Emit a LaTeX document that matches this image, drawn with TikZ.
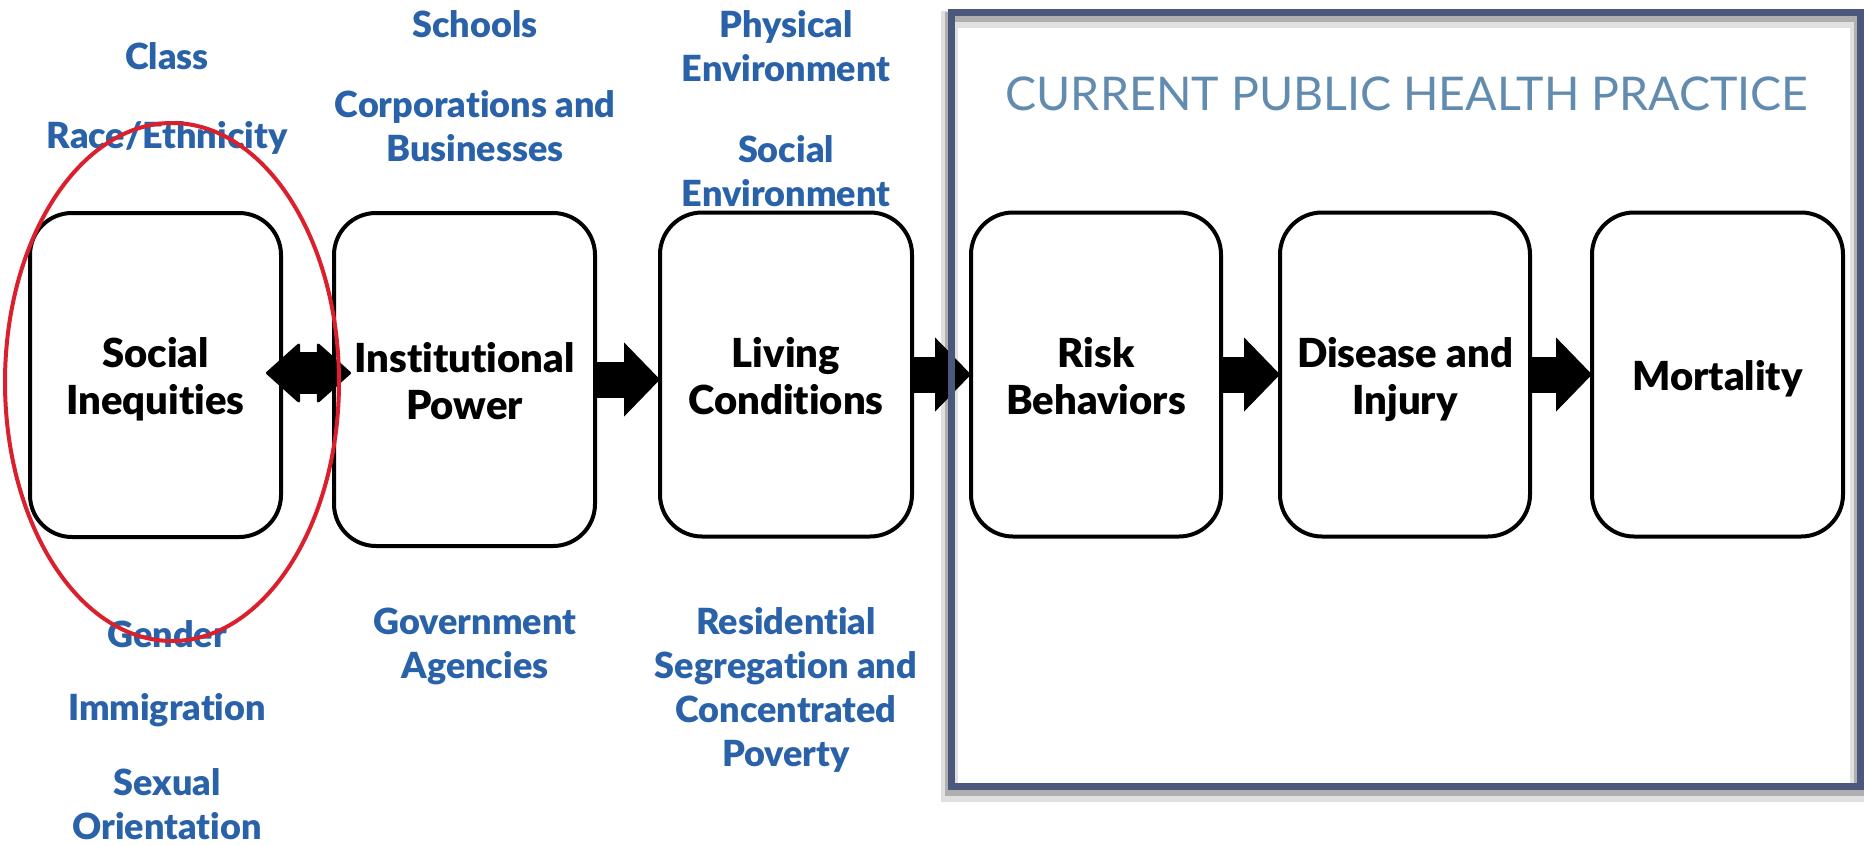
\documentclass[tikz,border=0pt]{standalone}
\usepackage{fontspec}
\setmainfont{Lato}[BoldFont={Lato Black}, Ligatures=NoCommon]
\usetikzlibrary{arrows.meta}
\definecolor{labelblue}{RGB}{41,98,168}
\definecolor{titleblue}{RGB}{98,139,176}
\definecolor{framegray}{RGB}{76,87,124}
\definecolor{ringred}{RGB}{218,32,44}
% invisible struts giving every text block the same height and depth
\newcommand\stagetop{\rule{0pt}{42pt}}
\newcommand\stagebot{\rule[-10pt]{0pt}{10pt}}
\newcommand\factortop{\rule{0pt}{35pt}}
\newcommand\factorbot{\rule[-9pt]{0pt}{9pt}}

\begin{document}
\begin{tikzpicture}[x=1pt,y=-1pt,
  stage/.style={draw=black, line width=4pt, rounded corners=42pt, fill=white,
    minimum width=251pt, minimum height=324pt, inner sep=0pt, outer sep=0pt,
    align=center, font=\fontsize{40}{47}\selectfont\bfseries},
  factor/.style={text=labelblue, align=center, inner sep=0pt,
    font=\fontsize{36}{44}\selectfont\bfseries},
  flow/.style={line width=36pt, -{Triangle[length=36pt,width=74pt,line width=1pt]}},
  twoway/.style={line width=42pt,
    {Triangle[round,length=35pt,width=62pt,line width=3pt]}-{Triangle[round,length=35pt,width=62pt,line width=3pt]}},
  practice/.style={draw=framegray, line width=7pt, minimum width=909pt,
    minimum height=774pt, inner sep=0pt, outer sep=0pt},
]
\useasboundingbox (0,0) rectangle (1864,846);

% drop shadow of the practice frame
\node[practice, draw=black, draw opacity=0.12, line width=17pt] (shadowb) at (1403.5,406) {};
\node[practice, draw=black, draw opacity=0.22, line width=10pt] (shadowa) at (1404,404) {};

% stages
\node[stage] (ineq) at (155.5,375) {\stagetop Social\\Inequities\stagebot};
\node[stage, minimum width=261pt, minimum height=333pt] (inst) at (464.5,379.5) {\stagetop Institutional\\Power\stagebot};
\node[stage, minimum width=252pt] (living) at (786,374.5) {\stagetop Living\\Conditions\stagebot};
\node[stage, minimum width=250pt] (risk) at (1096,374.5) {\stagetop Risk\\Behaviors\stagebot};
\node[stage, minimum width=250pt] (disease) at (1405,374.5) {\stagetop Disease and\\Injury\stagebot};
\node[stage] (mort) at (1717.5,374.5) {\stagetop Mortality\stagebot};

% connectors
\coordinate (twl) at ([xshift=-15pt,yshift=2pt]ineq.east);
\coordinate (twr) at ([xshift=17pt]inst.west |- twl);
\draw[twoway] (twl) -- (twr);
\draw[flow] (inst.east) -- (inst.east -| living.west);
\draw[flow] (living.east) -- (risk.west);
\draw[flow] (risk.east) -- (disease.west);
\draw[flow] (disease.east) -- (mort.west);

% practice frame and its title
\node[practice] (frame) at (1405.5,399) {};
\node[anchor=base, text=titleblue, inner sep=0pt,
  font=\fontsize{46.5}{50}\selectfont] (title) at (1407,110) {CURRENT PUBLIC HEALTH PRACTICE};

% factors around the stages
\node[factor] (class) at (167,56) {\factortop Class\factorbot};
\node[factor] (race) at (167,135) {\factortop Race/Ethnicity\factorbot};
\node[factor] (gender) at (167,634) {\factortop Gender\factorbot};
\node[factor] (immig) at (167,707) {\factortop Immigration\factorbot};
\node[factor] (sexual) at (167,804) {\factortop Sexual\\Orientation\factorbot};
\node[factor] (schools) at (475,24) {\factortop Schools\factorbot};
\node[factor] (corp) at (475,126) {\factortop Corporations and\\Businesses\factorbot};
\node[factor] (govt) at (475,643) {\factortop Government\\Agencies\factorbot};
\node[factor] (phys) at (786,46) {\factortop Physical\\Environment\factorbot};
\node[factor] (socenv) at (786,171) {\factortop Social\\Environment\factorbot};
\node[factor] (resid) at (786,687) {\factortop Residential\\Segregation and\\Concentrated\\Poverty\factorbot};

% highlight ring
\draw[ringred, line width=4pt] (172,382) ellipse [x radius=167pt, y radius=259pt];
\end{tikzpicture}
\end{document}
